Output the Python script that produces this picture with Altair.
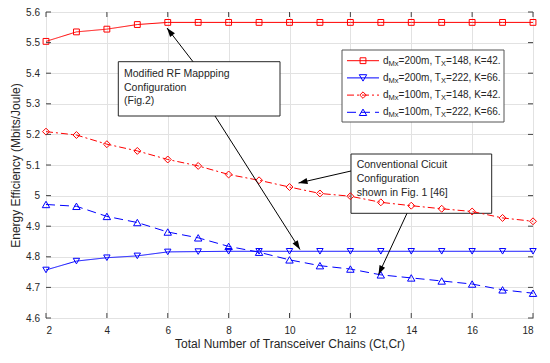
import math
import altair as alt
import pandas as pd

FONT = "Liberation Sans"
INK = "#262626"

# ---------------- data ----------------
x_vals = [2, 3, 4, 5, 6, 7, 8, 9, 10, 11, 12, 13, 14, 15, 16, 17, 18]
ee_200_148 = [5.504, 5.535, 5.544, 5.559, 5.566, 5.566, 5.566, 5.566, 5.566,
              5.566, 5.566, 5.566, 5.566, 5.566, 5.566, 5.566, 5.566]
ee_200_222 = [4.757, 4.786, 4.797, 4.803, 4.816, 4.817, 4.818, 4.818, 4.818,
              4.818, 4.818, 4.818, 4.818, 4.818, 4.818, 4.818, 4.818]
ee_100_148 = [5.209, 5.198, 5.168, 5.146, 5.118, 5.097, 5.069, 5.050, 5.028,
              5.007, 4.998, 4.978, 4.967, 4.957, 4.948, 4.927, 4.916]
ee_100_222 = [4.971, 4.965, 4.932, 4.912, 4.881, 4.862, 4.834, 4.815, 4.790,
              4.771, 4.760, 4.741, 4.731, 4.721, 4.711, 4.692, 4.681]

leg_d = ["200m", "200m", "100m", "100m"]
leg_T = ["148", "222", "148", "222"]
leg_K = ["42", "66", "42", "66"]
series_names = [f"dMx={d}, TX={t}, K={k}." for d, t, k in zip(leg_d, leg_T, leg_K)]
series_values = [ee_200_148, ee_200_222, ee_100_148, ee_100_222]

x_ticks = [2, 4, 6, 8, 10, 12, 14, 16, 18]
y_ticks = [4.6, 4.7, 4.8, 4.9, 5.0, 5.1, 5.2, 5.3, 5.4, 5.5, 5.6]

x_title = "Total Number of Transceiver Chains (Ct,Cr)"
y_title = "Energy Efficiency (Mbits/Joule)"
note1 = ["Modified RF Mappping", "Configuration", "(Fig.2)"]
note2 = ["Conventional Cicuit", "Configuration", "shown in Fig. 1 [46]"]

rows = []
for name, vals in zip(series_names, series_values):
    for xv, yv in zip(x_vals, vals):
        rows.append({"series": name, "x": xv, "y": yv})
df = pd.DataFrame(rows)

# ---------------- styles ----------------
W, H = 487, 306
colors = ["#ff0000", "#0000ff", "#ff0000", "#0000ff"]
shapes = ["square", "triangle-down", "diamond", "triangle-up"]
dashes = [[1, 0], [1, 0], [7, 3, 2, 3], [9, 5]]
sizes = [34, 55, 42, 55]

xscale = alt.Scale(domain=[2, 18], nice=False)
yscale = alt.Scale(domain=[4.6, 5.6], nice=False, zero=False)

x_axis = alt.Axis(values=x_ticks, title=x_title, grid=True, labelPadding=7,
                  titlePadding=3, labelFontSize=10, titleFontSize=12,
                  labelFontWeight="normal", titleFontWeight="normal")
y_axis = alt.Axis(values=y_ticks, title=y_title, grid=True, format=".1~f",
                  labelPadding=6.5, titlePadding=3, labelFontSize=10,
                  titleFontSize=12, titleFontWeight="normal")
X = alt.X("x:Q", scale=xscale, axis=x_axis)
Y = alt.Y("y:Q", scale=yscale, axis=y_axis)
C = alt.Color("series:N", scale=alt.Scale(domain=series_names, range=colors), legend=None)
S = alt.Shape("series:N", scale=alt.Scale(domain=series_names, range=shapes), legend=None)
D = alt.StrokeDash("series:N", scale=alt.Scale(domain=series_names, range=dashes), legend=None)
Z = alt.Size("series:N", scale=alt.Scale(domain=series_names, range=sizes), legend=None)

one = pd.DataFrame({"k": [0]})


def box(x1, x2, y1, y2, stroke=INK):
    return alt.Chart(one).mark_rect(fill="white", stroke=stroke, strokeWidth=1).encode(
        x=alt.value(x1), x2=alt.value(x2), y=alt.value(y1), y2=alt.value(y2))


def text(s, x, y, size=10.5, dy=0):
    return alt.Chart(one).mark_text(text=s, align="left", baseline="middle", font=FONT,
                                    fontSize=size, color=INK, dy=dy).encode(
        x=alt.value(x), y=alt.value(y))


ARROW = "M0,0L-0.34,1L0.34,1Z"


def arrow(x1, y1, x2, y2):
    ang = math.degrees(math.atan2(x2 - x1, -(y2 - y1))) % 360
    ln = alt.Chart(one).mark_rule(color="black", strokeWidth=1).encode(
        x=alt.value(x1), y=alt.value(y1), x2=alt.value(x2), y2=alt.value(y2))
    hd = alt.Chart(one).mark_point(shape=ARROW, filled=True, color="black", size=324,
                                   angle=ang, opacity=1, strokeWidth=0).encode(
        x=alt.value(x2), y=alt.value(y2))
    return [ln, hd]


base = alt.Chart(df)
layers = []
lines = base.mark_line(strokeWidth=1).encode(x=X, y=Y, color=C, strokeDash=D, detail="series:N")
points = base.mark_point(filled=False, strokeWidth=1, opacity=1).encode(
    x=X, y=Y, color=C, shape=S, size=Z)

# annotation boxes (behind data)
layers.append(box(72.3, 234, 49.7, 104))
layers.append(box(305, 445.7, 142, 201.3))
for i, s in enumerate(note1):
    layers.append(text(s, 78, 62.3 + 13.4 * i))
for i, s in enumerate(note2):
    layers.append(text(s, 310.7, 153 + 13.8 * i))

layers.append(lines)
layers.append(points)

# inward ticks on all four sides
xt = pd.DataFrame({"t": x_ticks})
yt = pd.DataFrame({"t": y_ticks})
tick_col = "#444444"
layers.append(alt.Chart(xt).mark_rule(color=tick_col, strokeWidth=1).encode(
    x=alt.X("t:Q", scale=xscale, axis=x_axis), y=alt.value(H), y2=alt.value(H - 5)))
layers.append(alt.Chart(xt).mark_rule(color=tick_col, strokeWidth=1).encode(
    x=alt.X("t:Q", scale=xscale, axis=x_axis), y=alt.value(0), y2=alt.value(5)))
layers.append(alt.Chart(yt).mark_rule(color=tick_col, strokeWidth=1).encode(
    y=alt.Y("t:Q", scale=yscale, axis=y_axis), x=alt.value(0), x2=alt.value(5)))
layers.append(alt.Chart(yt).mark_rule(color=tick_col, strokeWidth=1).encode(
    y=alt.Y("t:Q", scale=yscale, axis=y_axis), x=alt.value(W), x2=alt.value(W - 5)))

# arrows
layers += arrow(147, 49.7, 121, 16)
layers += arrow(169, 104, 254, 237.5)
layers += arrow(305, 159, 252.5, 171)
layers += arrow(361, 201.3, 332.5, 262.5)

# legend
layers.append(box(296, 458, 38, 110, stroke="#555555"))
WID = {'d': .556, 'M': .833, 'x': .5, '=': .584, '0': .556, '1': .556, '2': .556,
       '4': .556, '6': .556, '8': .556, 'm': .833, ',': .278, ' ': .278, 'T': .611,
       'X': .667, 'K': .667, '.': .278}


def tw(s, fs):
    return sum(WID.get(c, .556) for c in s) * fs


for i in range(4):
    ry = 48.7 + 17.2 * i
    layers.append(alt.Chart(one).mark_rule(color=colors[i], strokeWidth=1, strokeDash=dashes[i]).encode(
        x=alt.value(301), x2=alt.value(333), y=alt.value(ry)))
    layers.append(alt.Chart(one).mark_point(shape=shapes[i], size=sizes[i], filled=False,
                                            color=colors[i], strokeWidth=1, opacity=1).encode(
        x=alt.value(317), y=alt.value(ry)))
    pieces = [("d", 10, 0), ("Mx", 7.5, 3), (f"={leg_d[i]}, T", 10, 0), ("X", 7.5, 3),
              (f"={leg_T[i]}, K={leg_K[i]}.", 10, 0)]
    px = 337
    for s, fs, off in pieces:
        layers.append(text(s, px, ry + off, size=fs))
        px += tw(s, fs)

chart = alt.layer(*layers).properties(
    width=W, height=H,
    padding={"left": 38, "top": 4, "right": 9, "bottom": 37},
    autosize=alt.AutoSizeParams(type="none"),
).configure_view(stroke="#555555", strokeWidth=1).configure_axis(
    gridColor="#e2e2e2", gridWidth=1, labelFont=FONT, titleFont=FONT,
    labelColor=INK, titleColor=INK, domain=False, ticks=False,
)

chart.save("out.html", embed_options={"renderer": "svg", "actions": False})
